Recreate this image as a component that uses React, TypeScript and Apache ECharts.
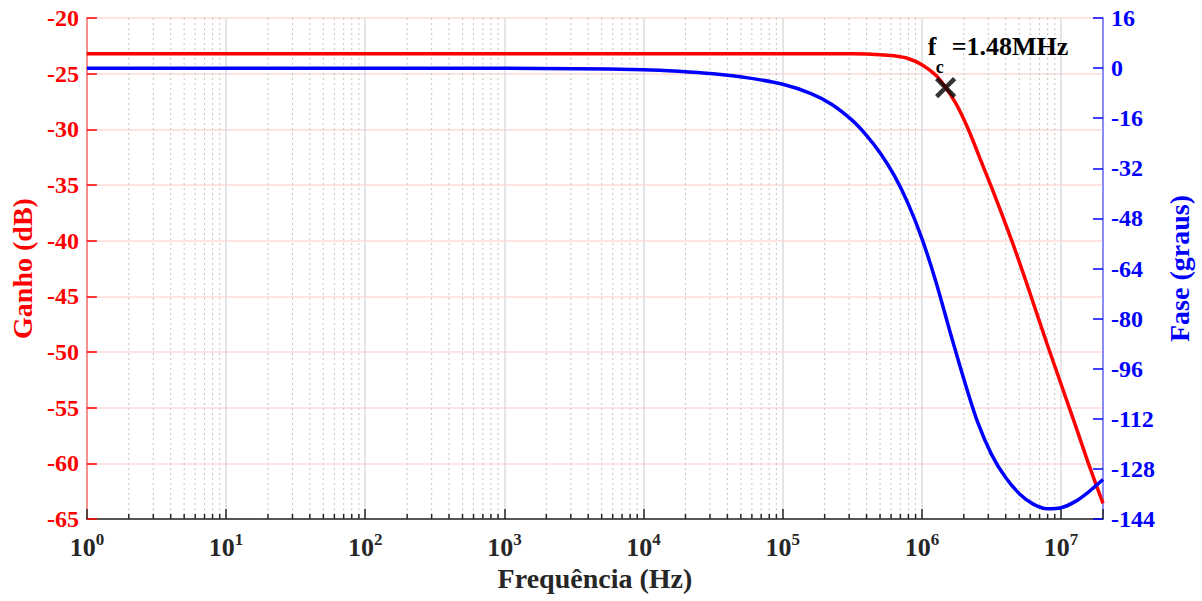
import React, { useEffect, useRef } from "react";
import * as echarts from "echarts";

// Gain curve (red, left axis): frequency in Hz and gain in dB
const gainFreq = [
  1, 1e4, 1e5, 3.16e5, 5.01e5, 6.31e5, 7.94e5, 1.0e6, 1.26e6, 1.48e6, 1.74e6,
  2.0e6, 2.29e6, 2.63e6, 3.16e6, 3.8e6, 4.54e6, 5.37e6, 6.31e6, 7.94e6,
  1.0e7, 1.26e7, 1.58e7, 2.0e7,
];
const gainDb = [
  -23.2, -23.2, -23.2, -23.22, -23.29, -23.4, -23.64, -24.2, -25.15, -26.25,
  -27.6, -29.1, -30.8, -32.7, -35.2, -37.8, -40.4, -43.0, -45.6, -49.3,
  -52.9, -56.5, -60.1, -63.6,
];

// Phase curve (blue, right axis): frequency in Hz and phase in degrees
const phaseFreq = [
  1, 100, 1e3, 3.16e3, 1e4, 1.78e4, 3.16e4, 5.62e4, 1e5, 1.58e5, 2.24e5,
  3.16e5, 3.98e5, 5.01e5, 6.31e5, 7.94e5, 1e6, 1.26e6, 1.58e6, 2.0e6,
  2.51e6, 3.16e6, 3.98e6, 5.01e6, 6.31e6, 7.94e6, 1e7, 1.26e7, 1.58e7, 2.0e7,
];
const phaseDeg = [
  -0.05, -0.05, -0.06, -0.17, -0.5, -1.0, -1.81, -3.12, -5.18, -8.08, -11.53,
  -16.7, -21.4, -27.1, -34.2, -43.2, -54.45, -68.2, -83.7, -99.3,
  -113.0, -123.35, -130.7, -135.9, -139.25, -140.75, -140.4, -138.45, -135.3, -131.4,
];

// Marked cut-off point
const fcFreq = 1.48e6;
const fcGain = -26.25;
const fcLabel = "=1.48MHz";

// Axis settings
const xMin = 1;
const xMax = 2e7;
const gainMin = -65;
const gainMax = -20;
const gainStep = 5;
const phaseMin = -144;
const phaseMax = 16;
const phaseStep = 16;

export default function App() {
  const ref = useRef<HTMLDivElement>(null);

  useEffect(() => {
    const chart = echarts.init(ref.current!, null, { renderer: "svg" });
    const font = "'Liberation Serif', 'Times New Roman', serif";

    const minorVals: number[] = [];
    for (let k = 0; k <= 7; k++) {
      for (let m = 2; m <= 9; m++) {
        const v = m * Math.pow(10, k);
        if (v < xMax) minorVals.push(v);
      }
    }

    const option: any = {
      animation: false,
      grid: { left: 86, right: 99, top: 18, bottom: 82, containLabel: false },
      xAxis: {
        type: "log",
        logBase: 10,
        min: xMin,
        max: xMax,
        axisLine: { onZero: false, lineStyle: { color: "#262626", width: 1.5 } },
        axisTick: { inside: true, length: 10, lineStyle: { color: "#262626", width: 1.5 } },
        axisLabel: {
          margin: 12,
          color: "#262626",
          formatter: (v: number) => {
            const e = Math.round(Math.log10(v));
            if (Math.abs(v - Math.pow(10, e)) > 1e-6 * v) return "";
            return `{b|10}{s|${e}}`;
          },
          rich: {
            b: { fontFamily: font, fontWeight: "bold", fontSize: 26, lineHeight: 32, color: "#262626" },
            s: { fontFamily: font, fontWeight: "bold", fontSize: 17, lineHeight: 17, verticalAlign: "top", color: "#262626" },
          },
        },
        splitLine: { show: true, lineStyle: { color: "#dcdcdc", width: 1.5 } },
        name: "Frequência (Hz)",
        nameLocation: "middle",
        nameGap: 44,
        nameTextStyle: { fontFamily: font, fontWeight: "bold", fontSize: 28, color: "#262626" },
      },
      yAxis: [
        {
          type: "value",
          position: "left",
          min: gainMin,
          max: gainMax,
          interval: gainStep,
          axisLine: { show: true, onZero: false, lineStyle: { color: "#ff7070", width: 1.5 } },
          axisTick: { show: true, inside: true, length: 10, lineStyle: { color: "#ff0000", width: 1.5 } },
          axisLabel: { margin: 8, color: "#ff0000", fontFamily: font, fontWeight: "bold", fontSize: 24 },
          splitLine: { show: true, lineStyle: { color: "rgba(255,0,0,0.15)", width: 1.5 } },
          name: "Ganho (dB)",
          nameLocation: "middle",
          nameGap: 46,
          nameTextStyle: { fontFamily: font, fontWeight: "bold", fontSize: 28, color: "#ff0000" },
        },
        {
          type: "value",
          position: "right",
          min: phaseMin,
          max: phaseMax,
          interval: phaseStep,
          axisLine: { show: true, onZero: false, lineStyle: { color: "#6b6bff", width: 1.5 } },
          axisTick: { show: true, inside: true, length: 10, lineStyle: { color: "#0000ff", width: 1.5 } },
          axisLabel: { margin: 8, color: "#0000ff", fontFamily: font, fontWeight: "bold", fontSize: 24 },
          splitLine: { show: false },
          name: "Fase (graus)",
          nameLocation: "middle",
          nameGap: 62,
          nameRotate: 90,
          nameTextStyle: { fontFamily: font, fontWeight: "bold", fontSize: 28, color: "#0000ff" },
        },
      ],
      series: [
        {
          type: "custom",
          xAxisIndex: 0,
          yAxisIndex: 0,
          silent: true,
          z: 1,
          data: minorVals.map((v) => [v, gainMin]),
          encode: { x: 0, y: 1 },
          renderItem: (params: any, api: any) => {
            const v = api.value(0);
            const top = api.coord([v, gainMax]);
            const bot = api.coord([v, gainMin]);
            return {
              type: "group",
              children: [
                {
                  type: "line",
                  shape: { x1: top[0], y1: top[1], x2: bot[0], y2: bot[1] },
                  style: { stroke: "#c4c4c4", lineWidth: 1, lineDash: [2, 3] },
                },
                {
                  type: "line",
                  shape: { x1: bot[0], y1: bot[1], x2: bot[0], y2: bot[1] - 5 },
                  style: { stroke: "#262626", lineWidth: 1.5 },
                },
              ],
            };
          },
        },
        {
          type: "line",
          name: "Ganho",
          xAxisIndex: 0,
          yAxisIndex: 0,
          data: gainFreq.map((f, i) => [f, gainDb[i]]),
          showSymbol: false,
          smooth: 0.2,
          z: 3,
          lineStyle: { color: "#ff0000", width: 3.5 },
        },
        {
          type: "line",
          name: "Fase",
          xAxisIndex: 0,
          yAxisIndex: 1,
          data: phaseFreq.map((f, i) => [f, phaseDeg[i]]),
          showSymbol: false,
          smooth: 0.3,
          z: 4,
          lineStyle: { color: "#0000ff", width: 3.5 },
        },
        {
          type: "scatter",
          xAxisIndex: 0,
          yAxisIndex: 0,
          data: [[fcFreq, fcGain]],
          symbol: "path://M0,0L20,20M20,0L0,20",
          symbolSize: 18,
          z: 5,
          itemStyle: { color: "none", borderColor: "#000000", borderWidth: 4.5 },
        },
      ],
    };

    chart.setOption(option);

    const p = chart.convertToPixel({ xAxisIndex: 0, yAxisIndex: 0 }, [fcFreq, fcGain]) as number[];
    const cx = p[0];
    const cy = p[1];
    chart.setOption({
      graphic: [
        {
          type: "text",
          x: cx - 18,
          y: cy - 28,
          z: 10,
          style: { text: "f", font: `bold 26px ${font}`, fill: "#000", verticalAlign: "bottom", align: "left" },
        },
        {
          type: "text",
          x: cx - 10,
          y: cy - 12,
          z: 10,
          style: { text: "c", font: `bold 18px ${font}`, fill: "#000", verticalAlign: "bottom", align: "left" },
        },
        {
          type: "text",
          x: cx + 6,
          y: cy - 28,
          z: 10,
          style: { text: fcLabel, font: `bold 26px ${font}`, fill: "#000", verticalAlign: "bottom", align: "left" },
        },
      ],
    });

    return () => chart.dispose();
  }, []);

  return (
    <div
      ref={ref}
      style={{ position: "absolute", left: 0, top: 0, width: 1202, height: 601 }}
    />
  );
}
